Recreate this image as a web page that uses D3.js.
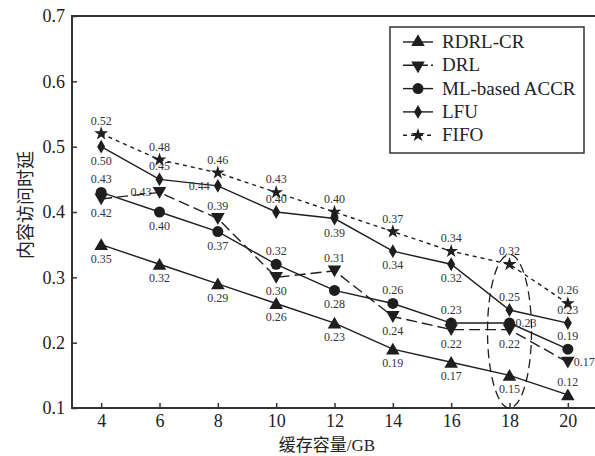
<!DOCTYPE html>
<html>
<head>
<meta charset="utf-8">
<script src="https://cdn.jsdelivr.net/npm/d3@7"></script>
<style>
  body { margin: 0; background: #fff; }
  svg { display: block; font-family: "Liberation Serif", "Noto Sans CJK SC", serif; }
</style>
</head>
<body>
<div id="chart"></div>
<script>
// data
const cacheSizes = [4, 6, 8, 10, 12, 14, 16, 18, 20];
const rdrlCr   = [0.35, 0.32, 0.29, 0.26, 0.23, 0.19, 0.17, 0.15, 0.12];
const drl      = [0.42, 0.43, 0.39, 0.30, 0.31, 0.24, 0.22, 0.22, 0.17];
const mlAccr   = [0.43, 0.40, 0.37, 0.32, 0.28, 0.26, 0.23, 0.23, 0.19];
const lfu      = [0.50, 0.45, 0.44, 0.40, 0.39, 0.34, 0.32, 0.25, 0.23];
const fifo     = [0.52, 0.48, 0.46, 0.43, 0.40, 0.37, 0.34, 0.32, 0.26];
const seriesNames = ['RDRL-CR', 'DRL', 'ML-based ACCR', 'LFU', 'FIFO'];
const yTicks = [0.1, 0.2, 0.3, 0.4, 0.5, 0.6, 0.7];
const xTicks = [4, 6, 8, 10, 12, 14, 16, 18, 20];
const xTitle = '缓存容量/GB';
const yTitle = '内容访问时延';

// where each value label sits relative to its point: a=above b=below l=left r=right
const labelPos = [
  ['b','b','b','b','b','b','b','b','a'],
  ['b','l','a','b','a','b','b','b','r'],
  ['a','b','b','a','b','a','a','r','a'],
  ['b','a','l','a','b','b','b','a','a'],
  ['a','a','a','a','a','a','a','a','a']
];

const width = 595, height = 456;
const margin = { top: 16, right: -2, bottom: 48, left: 72 };
const ink = '#1e1e1e';

const svg = d3.select('#chart').append('svg')
  .attr('width', width).attr('height', height);

const x = d3.scaleLinear().domain([3, 21]).range([margin.left, width - margin.right]);
const y = d3.scaleLinear().domain([0.1, 0.7]).range([height - margin.bottom, margin.top]);

// frame
svg.append('rect')
  .attr('x', x(3)).attr('y', y(0.7))
  .attr('width', x(21) - x(3)).attr('height', y(0.1) - y(0.7))
  .attr('fill', 'none').attr('stroke', '#333').attr('stroke-width', 2);

const xAxis = svg.append('g')
  .attr('transform', `translate(0,${y(0.1)})`)
  .call(d3.axisBottom(x).tickValues(xTicks).tickSize(-5).tickPadding(6).tickFormat(d3.format('d')));
const yAxis = svg.append('g')
  .attr('transform', `translate(${x(3)},0)`)
  .call(d3.axisLeft(y).tickValues(yTicks).tickSize(-5).tickPadding(7).tickFormat(d3.format('.1f')));
[xAxis, yAxis].forEach(g => {
  g.select('.domain').remove();
  g.selectAll('.tick line').attr('stroke', '#333').attr('stroke-width', 1.5);
  g.selectAll('.tick text').attr('fill', '#222').style('font-size', '18px')
    .style('font-family', '"Liberation Serif", serif');
});

svg.append('text')
  .attr('x', 327).attr('y', 451)
  .attr('text-anchor', 'middle').attr('fill', '#222').style('font-size', '17px')
  .text(xTitle);
svg.append('text')
  .attr('transform', `translate(32,205) rotate(-90)`)
  .attr('text-anchor', 'middle').attr('fill', '#222').style('font-size', '18px')
  .text(yTitle);

const allSeries = [rdrlCr, drl, mlAccr, lfu, fifo];
const dashes = [null, '11,5', null, null, '4,4'];
const symbols = [
  d3.symbol().type(d3.symbolTriangle).size(80),
  d3.symbol().type(d3.symbolTriangle).size(80),
  d3.symbol().type(d3.symbolCircle).size(95),
  d3.symbol().type(d3.symbolDiamond).size(55),
  d3.symbol().type(d3.symbolStar).size(60)
];
const symbolTransform = (i) => (i === 1 ? 'rotate(180)' : '');

const line = d3.line().x((d, i) => x(cacheSizes[i])).y(d => y(d));

allSeries.forEach((vals, s) => {
  svg.append('path')
    .datum(vals)
    .attr('d', line)
    .attr('fill', 'none')
    .attr('stroke', ink)
    .attr('stroke-width', 1.4)
    .attr('stroke-dasharray', dashes[s]);

  svg.append('g').selectAll('path')
    .data(vals)
    .enter().append('path')
    .attr('transform', (d, i) => `translate(${x(cacheSizes[i])},${y(d) + (s === 0 ? 1.5 : s === 1 ? -1.5 : 0)}) ${symbolTransform(s)}`)
    .attr('d', symbols[s])
    .attr('fill', ink);

  svg.append('g').selectAll('text')
    .data(vals)
    .enter().append('text')
    .attr('x', (d, i) => {
      const p = labelPos[s][i];
      const cx = x(cacheSizes[i]);
      return p === 'l' ? cx - 8 : p === 'r' ? cx + 6 : cx;
    })
    .attr('y', (d, i) => {
      const p = labelPos[s][i];
      const cy = y(d);
      return p === 'a' ? cy - 9 : p === 'b' ? cy + 18 : cy + 4;
    })
    .attr('text-anchor', (d, i) => labelPos[s][i] === 'l' ? 'end' : labelPos[s][i] === 'r' ? 'start' : 'middle')
    .attr('fill', '#333')
    .style('font-size', '12px')
    .text(d => d.toFixed(2));
});

// dashed ellipse around the 18 GB column
svg.append('ellipse')
  .attr('cx', x(18)).attr('cy', (y(0.335) + y(0.1)) / 2)
  .attr('rx', 22).attr('ry', (y(0.1) - y(0.335)) / 2)
  .attr('fill', 'none').attr('stroke', ink).attr('stroke-width', 1.3)
  .attr('stroke-dasharray', '9,5');

// legend
const lg = svg.append('g');
lg.append('rect')
  .attr('x', 390).attr('y', 27).attr('width', 194).attr('height', 126)
  .attr('fill', '#fff').attr('stroke', '#333').attr('stroke-width', 1.5);
seriesNames.forEach((name, s) => {
  const ly = 42 + s * 23.3;
  lg.append('line')
    .attr('x1', 403).attr('x2', 433).attr('y1', ly).attr('y2', ly)
    .attr('stroke', ink).attr('stroke-width', 1.4)
    .attr('stroke-dasharray', s === 1 ? '11,3' : s === 4 ? '4,4' : null);
  lg.append('path')
    .attr('transform', `translate(418,${ly}) ${symbolTransform(s)}`)
    .attr('d', symbols[s])
    .attr('fill', ink);
  lg.append('text')
    .attr('x', 442).attr('y', ly + 6)
    .attr('fill', '#222').style('font-size', '19px')
    .text(name);
});
</script>
</body>
</html>
